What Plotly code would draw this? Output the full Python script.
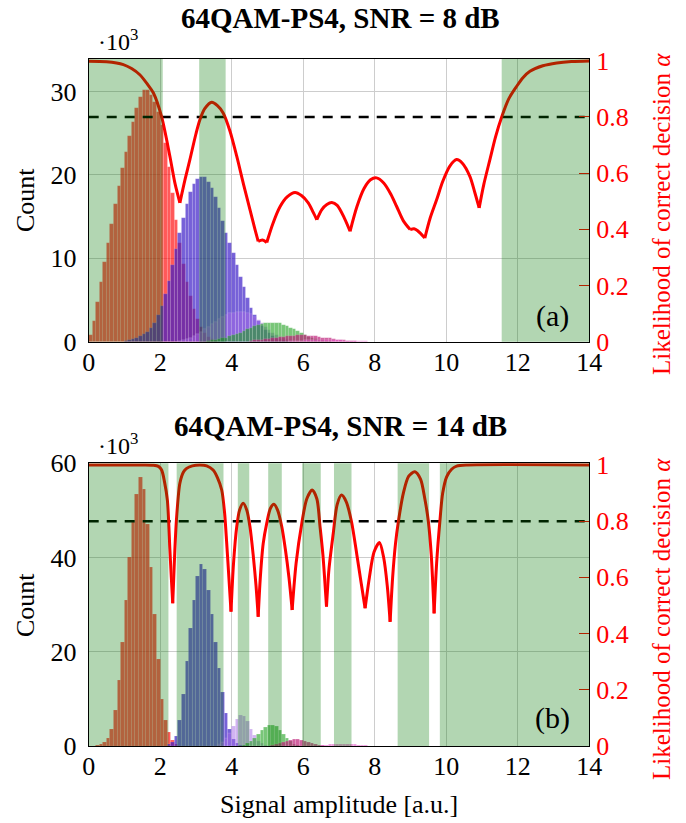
import plotly.graph_objects as go
from plotly.subplots import make_subplots

# ---------------- histogram data (counts in units of 10^3, bin width 0.1) ----------------
BIN = 0.1

# SNR = 8 dB
top_red_start = 0.05
top_red = [0.8, 2.5, 4.8, 7.2, 9.5, 11.8, 14.1, 16.5, 18.7, 20.8, 22.8, 24.7, 26.4, 28.0, 29.3,
           30.2, 30.2, 29.6, 28.7, 27.6, 26.0, 23.8, 21.0, 17.8, 14.6, 11.8, 9.3, 7.2, 5.5, 3.9,
           2.7, 1.8, 1.1, 0.6, 0.3, 0.1]
top_blue_start = 1.05
top_blue = [0.1, 0.2, 0.3, 0.5, 0.7, 0.9, 1.2, 1.6, 2.3, 3.2, 4.3, 5.7, 7.3, 9.2, 11.1, 13.0,
            14.8, 16.5, 17.9, 18.9, 19.5, 19.8, 19.7, 19.2, 18.4, 17.3, 16.0, 14.5, 13.0, 11.8,
            10.6, 9.2, 7.8, 6.5, 5.2, 4.1, 3.2, 2.5, 1.9, 1.4, 1.0, 0.7, 0.5, 0.3, 0.2, 0.1]
top_lilac_start = 2.55
top_lilac = [0.1, 0.2, 0.3, 0.5, 0.7, 0.9, 1.2, 1.5, 1.8, 2.1, 2.4, 2.7, 3.0, 3.2, 3.4, 3.5,
             3.6, 3.6, 3.6, 3.5, 3.3, 3.0, 2.6, 2.2, 1.8, 1.4, 1.1, 0.8, 0.6, 0.4, 0.3, 0.2, 0.1]
top_green_start = 3.35
top_green = [0.1, 0.15, 0.2, 0.3, 0.4, 0.5, 0.65, 0.8, 0.95, 1.1, 1.3, 1.5, 1.7, 1.85, 2.0, 2.1,
             2.2, 2.25, 2.3, 2.25, 2.2, 2.05, 1.9, 1.7, 1.5, 1.25, 1.0, 0.8, 0.6, 0.45, 0.35,
             0.25, 0.15, 0.1, 0.05]
top_magenta_start = 4.55
top_magenta = [0.1, 0.15, 0.2, 0.25, 0.3, 0.35, 0.45, 0.5, 0.55, 0.6, 0.65, 0.7, 0.7, 0.75, 0.75,
               0.75, 0.7, 0.7, 0.65, 0.6, 0.5, 0.45, 0.4, 0.3, 0.25, 0.2, 0.15, 0.1, 0.08, 0.05]
top_orchid_start = 5.65
top_orchid = [0.05, 0.08, 0.1, 0.12, 0.15, 0.18, 0.2, 0.22, 0.25, 0.25, 0.25, 0.22, 0.2, 0.18,
              0.15, 0.12, 0.1, 0.08, 0.06, 0.05, 0.04, 0.03]

# SNR = 14 dB
bot_red_start = 0.25
bot_red = [0.1, 0.3, 0.8, 1.6, 3.5, 7.5, 14.0, 22.0, 31.0, 40.0, 47.5, 53.5, 57.0, 54.5, 47.0,
           38.0, 28.0, 18.5, 10.0, 5.5, 3.0, 1.2, 0.4]
bot_blue_start = 2.25
bot_blue = [0.3, 0.8, 2.0, 5.5, 11.0, 18.0, 25.0, 31.0, 36.0, 38.5, 37.5, 33.0, 28.0, 22.0, 16.5,
            11.5, 7.0, 3.5, 1.5, 0.5, 0.1]
bot_lilac_start = 3.65
bot_lilac = [0.3, 0.8, 1.6, 2.8, 4.2, 5.6, 6.5, 6.3, 5.2, 3.6, 2.2, 1.1, 0.5, 0.2]
bot_green_start = 4.35
bot_green = [0.2, 0.5, 1.0, 1.7, 2.5, 3.3, 3.9, 4.3, 4.4, 4.1, 3.4, 2.5, 1.6, 0.9, 0.4, 0.15]
bot_magenta_start = 5.15
bot_magenta = [0.1, 0.3, 0.5, 0.8, 1.1, 1.3, 1.4, 1.4, 1.3, 1.1, 0.8, 0.55, 0.35, 0.2, 0.1]
bot_orchid_start = 6.55
bot_orchid = [0.1, 0.2, 0.3, 0.4, 0.4, 0.35, 0.3, 0.35, 0.4, 0.35, 0.25, 0.15, 0.1]

# ---------------- likelihood of correct decision (arcs between cusps) ----------------
top_alpha_arcs = [
    [(0.0, 0.998), (0.5, 0.996), (0.97, 0.986), (1.2, 0.972), (1.43, 0.95), (1.65, 0.915),
     (1.81, 0.885), (2.04, 0.80), (2.27, 0.66), (2.41, 0.565), (2.55, 0.494)],
    [(2.55, 0.494), (2.7, 0.58), (2.83, 0.648), (3.0, 0.74), (3.11, 0.79), (3.25, 0.83),
     (3.44, 0.852), (3.6, 0.84), (3.76, 0.814), (3.95, 0.75), (4.14, 0.66), (4.33, 0.56),
     (4.51, 0.47), (4.65, 0.40), (4.74, 0.357)],
    [(4.74, 0.357), (4.86, 0.362), (4.98, 0.353)],
    [(4.98, 0.353), (5.15, 0.42), (5.35, 0.48), (5.55, 0.515), (5.77, 0.531), (5.95, 0.52),
     (6.14, 0.494), (6.28, 0.46), (6.38, 0.434)],
    [(6.38, 0.434), (6.52, 0.47), (6.66, 0.488), (6.8, 0.495), (6.95, 0.485), (7.15, 0.44),
     (7.31, 0.393)],
    [(7.31, 0.393), (7.5, 0.48), (7.7, 0.545), (7.88, 0.576), (8.05, 0.583), (8.25, 0.565),
     (8.45, 0.525), (8.61, 0.482), (8.8, 0.43), (8.99, 0.399)],
    [(8.99, 0.399), (9.1, 0.402), (9.2, 0.395), (9.40, 0.369)],
    [(9.40, 0.369), (9.55, 0.44), (9.73, 0.505), (9.9, 0.57), (10.1, 0.625), (10.29, 0.648),
     (10.45, 0.635), (10.66, 0.588), (10.8, 0.53), (10.92, 0.476)],
    [(10.92, 0.476), (11.05, 0.56), (11.22, 0.648), (11.38, 0.73), (11.55, 0.80), (11.75, 0.865),
     (11.97, 0.909), (12.15, 0.94), (12.34, 0.962), (12.7, 0.982), (13.09, 0.992), (13.5, 0.997),
     (14.0, 0.999)],
]
bot_alpha_arcs = [
    [(0.0, 1.0), (1.5, 1.0), (1.81, 0.999), (1.95, 0.995), (2.04, 0.982), (2.12, 0.94),
     (2.2, 0.875), (2.27, 0.70), (2.31, 0.6), (2.35, 0.508)],
    [(2.35, 0.508), (2.41, 0.70), (2.46, 0.816), (2.55, 0.935), (2.65, 0.975), (2.74, 0.988),
     (2.9, 0.997), (3.11, 1.0), (3.3, 0.997), (3.48, 0.982), (3.6, 0.955), (3.72, 0.911),
     (3.8, 0.83), (3.86, 0.721), (3.92, 0.6), (3.98, 0.478)],
    [(3.98, 0.478), (4.05, 0.65), (4.14, 0.78), (4.22, 0.84), (4.32, 0.864), (4.42, 0.84),
     (4.51, 0.78), (4.6, 0.68), (4.68, 0.57), (4.74, 0.46)],
    [(4.74, 0.46), (4.8, 0.6), (4.88, 0.72), (4.98, 0.793), (5.08, 0.845), (5.18, 0.86),
     (5.28, 0.84), (5.40, 0.78), (5.5, 0.70), (5.6, 0.60), (5.69, 0.484)],
    [(5.69, 0.484), (5.8, 0.65), (5.96, 0.793), (6.1, 0.88), (6.25, 0.911), (6.38, 0.88),
     (6.47, 0.78), (6.55, 0.68), (6.65, 0.496)],
    [(6.65, 0.496), (6.72, 0.63), (6.84, 0.757), (6.95, 0.86), (7.07, 0.893), (7.2, 0.87),
     (7.35, 0.798), (7.5, 0.68), (7.62, 0.58), (7.73, 0.49)],
    [(7.73, 0.49), (7.85, 0.6), (7.98, 0.69), (8.13, 0.724), (8.25, 0.67), (8.35, 0.57),
     (8.43, 0.442)],
    [(8.43, 0.442), (8.5, 0.6), (8.58, 0.72), (8.66, 0.798), (8.8, 0.9), (8.95, 0.96),
     (9.12, 0.976), (9.28, 0.95), (9.4, 0.88), (9.5, 0.798), (9.58, 0.68), (9.66, 0.472)],
    [(9.66, 0.472), (9.73, 0.65), (9.82, 0.798), (9.9, 0.9), (10.01, 0.958), (10.15, 0.985),
     (10.29, 0.996), (10.6, 1.0), (14.0, 1.0)],
]

# decision threshold and regions where alpha exceeds it
threshold = 0.8
top_regions = [(0.0, 2.07), (3.09, 3.83), (11.55, 14.0)]
bot_regions = [(0.0, 2.23), (2.46, 3.77), (4.17, 4.49), (5.02, 5.40), (5.97, 6.49),
               (6.86, 7.35), (8.64, 9.52), (9.82, 14.0)]

x_ticks = [0, 2, 4, 6, 8, 10, 12, 14]
top_count_ticks = [0, 10, 20, 30]
bot_count_ticks = [0, 20, 40, 60]
alpha_ticks = [0, 0.2, 0.4, 0.6, 0.8, 1]
alpha_ticktext = ["0", "0.2", "0.4", "0.6", "0.8", "1"]

# ---------------- styling ----------------
W, H = 686, 823
FONT = "Liberation Serif"
COLORS = {
    "red": "rgba(255,0,0,0.65)",
    "blue": "rgba(60,30,200,0.7)",
    "lilac": "rgba(165,105,230,0.5)",
    "green": "rgba(30,160,30,0.6)",
    "magenta": "rgba(190,30,120,0.7)",
    "orchid": "rgba(230,80,200,0.6)",
}
SHADE = "rgba(0,120,0,0.3)"
GRID = "rgb(205,205,205)"

px_x0, px_x1 = 88.7, 589.3
top_px = (59.0, 341.7)
bot_px = (463.3, 746.0)


def fy(py):
    return 1 - py / H


fig = make_subplots(rows=2, cols=1, specs=[[{"secondary_y": True}], [{"secondary_y": True}]])


def add_hist(row, series):
    for name, start, vals in series:
        xs = [start + BIN * i for i in range(len(vals))]
        fig.add_trace(go.Bar(x=xs, y=vals, width=BIN, marker=dict(
            color=COLORS[name], line=dict(width=0.5, color="rgba(255,255,255,0.25)")),
            showlegend=False), row=row, col=1, secondary_y=False)


def add_alpha(row, arcs):
    xs, ys = [], []
    for arc in arcs:
        for x, a in arc:
            xs.append(x)
            ys.append(a)
        xs.append(None)
        ys.append(None)
    fig.add_trace(go.Scatter(x=[0, 14], y=[threshold, threshold], mode="lines",
                             line=dict(color="black", width=2.5, dash="10px,8px"),
                             showlegend=False), row=row, col=1, secondary_y=True)
    fig.add_trace(go.Scatter(x=xs, y=ys, mode="lines", connectgaps=False,
                             line=dict(color="red", width=3, shape="spline", smoothing=0.8),
                             showlegend=False), row=row, col=1, secondary_y=True)


add_hist(1, [("red", top_red_start, top_red), ("blue", top_blue_start, top_blue),
             ("lilac", top_lilac_start, top_lilac), ("green", top_green_start, top_green),
             ("magenta", top_magenta_start, top_magenta), ("orchid", top_orchid_start, top_orchid)])
add_alpha(1, top_alpha_arcs)
add_hist(2, [("red", bot_red_start, bot_red), ("blue", bot_blue_start, bot_blue),
             ("lilac", bot_lilac_start, bot_lilac), ("green", bot_green_start, bot_green),
             ("magenta", bot_magenta_start, bot_magenta), ("orchid", bot_orchid_start, bot_orchid)])
add_alpha(2, bot_alpha_arcs)

shapes = []
for (x0, x1) in top_regions:
    shapes.append(dict(type="rect", xref="x", yref="y domain", x0=x0, x1=x1, y0=0, y1=1,
                       fillcolor=SHADE, line=dict(width=0), layer="above"))
for (x0, x1) in bot_regions:
    shapes.append(dict(type="rect", xref="x2", yref="y3 domain", x0=x0, x1=x1, y0=0, y1=1,
                       fillcolor=SHADE, line=dict(width=0), layer="above"))

tickfont = dict(family=FONT, size=26, color="black")
redfont = dict(family=FONT, size=26, color="red")
xdom = [px_x0 / W, px_x1 / W]
top_dom = [fy(top_px[1]), fy(top_px[0])]
bot_dom = [fy(bot_px[1]), fy(bot_px[0])]

xcommon = dict(range=[0, 14], tickvals=x_ticks, showgrid=True, gridcolor=GRID, gridwidth=1,
               showline=True, mirror=True, linecolor="black", linewidth=1.2, ticks="",
               tickfont=tickfont, zeroline=False, domain=xdom, ticklabelstandoff=-3,
               automargin=False)
ycommon = dict(showgrid=True, gridcolor=GRID, gridwidth=1, showline=True, mirror=True,
               linecolor="black", linewidth=1.2, ticks="", tickfont=tickfont, zeroline=False,
               ticklabelstandoff=6, automargin=False)
y2common = dict(range=[0, 1.006], tickvals=alpha_ticks, ticktext=alpha_ticktext, showgrid=False,
                ticks="inside", ticklen=10, tickcolor="red", tickwidth=1, tickfont=redfont,
                showline=False, zeroline=False, ticklabelstandoff=6, automargin=False)

fig.update_layout(
    width=W, height=H, margin=dict(l=0, r=0, t=0, b=0, autoexpand=False),
    paper_bgcolor="white", plot_bgcolor="white", barmode="overlay", bargap=0,
    showlegend=False, shapes=shapes,
    xaxis=dict(xcommon),
    xaxis2=dict(xcommon),
    yaxis=dict(ycommon, range=[0, 33.9], tickvals=top_count_ticks, domain=top_dom),
    yaxis2=dict(y2common, domain=top_dom),
    yaxis3=dict(ycommon, range=[0, 60], tickvals=bot_count_ticks, domain=bot_dom),
    yaxis4=dict(y2common, domain=bot_dom),
)


def label(text, px, py, size, color="black", angle=0, xanchor="center"):
    return dict(text=text, x=px / W, y=fy(py), xref="paper", yref="paper", showarrow=False,
                xanchor=xanchor, yanchor="middle", textangle=angle,
                font=dict(family=FONT, size=size, color=color))


ann = [
    label("<b>64QAM-PS4, SNR = 8 dB</b>", 340, 18, 29),
    label("<b>64QAM-PS4, SNR = 14 dB</b>", 340, 426, 29),
    label("·10<sup>3</sup>", 96, 40, 24, xanchor="left"),
    label("·10<sup>3</sup>", 96, 444, 24, xanchor="left"),
    label("Count", 25, 200, 26, angle=-90),
    label("Count", 25, 605, 26, angle=-90),
    label("Likelihood of correct decision <i>α</i>", 661, 214, 25, color="red", angle=-90),
    label("Likelihood of correct decision <i>α</i>", 661, 619, 25, color="red", angle=-90),
    label("(a)", 552, 316, 30),
    label("(b)", 552, 718, 30),
    label("Signal amplitude [a.u.]", 339, 804, 26),
]
fig.update_layout(annotations=ann)

fig.write_html("out.html")
